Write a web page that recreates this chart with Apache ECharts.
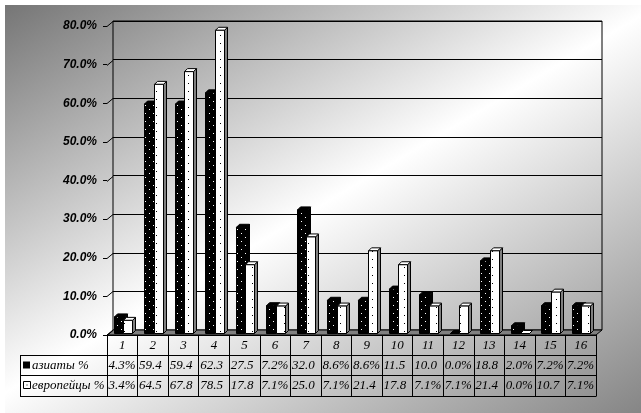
<!DOCTYPE html>
<html><head><meta charset="utf-8">
<script src="https://cdn.jsdelivr.net/npm/echarts@6/dist/echarts.min.js"></script>
<style>html,body{margin:0;padding:0;background:#fff}#c{width:641px;height:413px}</style>
</head><body><div id="c"></div>
<script>
// ---- data ----
const categories = ['1','2','3','4','5','6','7','8','9','10','11','12','13','14','15','16'];
const seriesNames = ['азиаты %', 'европейцы %'];
const asians    = [4.3, 59.4, 59.4, 62.3, 27.5, 7.2, 32.0, 8.6, 8.6, 11.5, 10.0, 0.0, 18.8, 2.0, 7.2, 7.2];
const europeans = [3.4, 64.5, 67.8, 78.5, 17.8, 7.1, 25.0, 7.1, 21.4, 17.8, 7.1, 7.1, 21.4, 0.0, 10.7, 7.1];
const yTicks = [0, 10, 20, 30, 40, 50, 60, 70, 80];

// ---- layout / style ----
const FRONT = {left: 107, top: 26, width: 489, height: 309};
const DX = 6, DY = -5;
const ROW_Y = [365.5, 386];
const TABLE = {left: 20, lines: [355.5, 375.5, 396.5]};
const SERIF_STYLE = {fontFamily: '"Liberation Serif", "Times New Roman", serif', fontStyle: 'italic', fontSize: 13, fontWeight: 'normal'};

function makePattern(bg, dot, pts, w, h) {
  const c = document.createElement('canvas'); c.width = w; c.height = h;
  const g = c.getContext('2d'); g.fillStyle = bg; g.fillRect(0, 0, w, h); g.fillStyle = dot;
  pts.forEach(p => g.fillRect(p[0], p[1], 1, 1));
  return {image: c, repeat: 'repeat'};
}
const blackPat = makePattern('#000', '#fff', [[1, 1], [5, 5]], 8, 8);
const whitePat = makePattern('#fff', '#000', [[4, 3]], 8, 8);

const BAR_STYLE = [
  {off: 6.5, w: 10, front: blackPat, side: '#000', top: '#000'},
  {off: 16, w: 9, front: whitePat, side: '#808080', top: '#fff'}
];

function barRender(sIdx) {
  return function (params, api) {
    const i = api.value(0), v = api.value(1);
    const cs = params.coordSys;
    const band = cs.width / categories.length;
    const L = cs.x + i * band;
    const pTop = api.coord([i, v]), pBase = api.coord([i, 0]);
    const sh = 1.5, d = 3;
    const yb = pBase[1] - sh, yt = pTop[1] - sh;
    const s = BAR_STYLE[sIdx];
    const x0 = Math.round(L + s.off) + 0.5, x1 = x0 + s.w;
    return {type: 'group', children: [
      {type: 'polygon', shape: {points: [[x1, yb], [x1 + d, yb - d], [x1 + d, yt - d], [x1, yt]]},
        style: {fill: s.side, stroke: '#000', lineWidth: 1}},
      {type: 'polygon', shape: {points: [[x0, yt], [x0 + d, yt - d], [x1 + d, yt - d], [x1, yt]]},
        style: {fill: s.top, stroke: '#000', lineWidth: 1}},
      {type: 'rect', shape: {x: x0, y: yt, width: s.w, height: Math.max(0, yb - yt)},
        style: {fill: s.front, stroke: '#000', lineWidth: 1}}
    ]};
  };
}

const chart = echarts.init(document.getElementById('c'));
const bgGrad = new echarts.graphic.LinearGradient(146.6, -86.4, 493.4, 498.4, [
  {offset: 0, color: '#737373'}, {offset: 0.5, color: '#ffffff'}, {offset: 1, color: '#868686'}
], true);

const tableRight = FRONT.left + FRONT.width;
const graphics = [
  {type: 'rect', z: -100, shape: {x: 5, y: 5, width: 636, height: 408}, style: {fill: bgGrad}, silent: true},
];
TABLE.lines.forEach(y => graphics.push({type: 'line', z: 10, shape: {x1: TABLE.left, y1: y, x2: tableRight, y2: y}, style: {stroke: '#000', lineWidth: 1}}));
graphics.push({type: 'line', z: 10, shape: {x1: TABLE.left + 0.5, y1: TABLE.lines[0], x2: TABLE.left + 0.5, y2: TABLE.lines[2]}, style: {stroke: '#000', lineWidth: 1}});
graphics.push({type: 'line', z: 10, shape: {x1: tableRight + 0.5, y1: FRONT.top + FRONT.height, x2: tableRight + 0.5, y2: TABLE.lines[2]}, style: {stroke: '#000', lineWidth: 1}});
// legend keys
graphics.push({type: 'rect', z: 10, shape: {x: 23, y: 361.5, width: 7, height: 7}, style: {fill: '#000'}});
graphics.push({type: 'rect', z: 10, shape: {x: 23.5, y: 381.5, width: 7, height: 7}, style: {fill: '#fff', stroke: '#000', lineWidth: 1}});
graphics.push({type: 'rect', z: 10, shape: {x: 26.5, y: 384.5, width: 1, height: 1}, style: {fill: '#000'}});
seriesNames.forEach((n, r) => graphics.push({type: 'text', z: 10, style: Object.assign({text: n, x: 32, y: ROW_Y[r], fill: '#000', verticalAlign: 'middle', align: 'left'}, SERIF_STYLE)}));

const option = {
  animation: false,
  backgroundColor: '#fff',
  graphic: graphics,
  grid: [
    {left: FRONT.left + DX, top: FRONT.top + DY, width: FRONT.width, height: FRONT.height, show: true, borderColor: '#000', borderWidth: 1, backgroundColor: 'transparent'},
    {left: FRONT.left, top: FRONT.top, width: FRONT.width, height: FRONT.height}
  ],
  xAxis: [
    {gridIndex: 0, type: 'category', data: categories, show: false},
    {gridIndex: 1, type: 'category', data: categories, position: 'bottom',
      axisLine: {show: true, lineStyle: {color: '#000', width: 1}},
      axisTick: {show: true, length: 61, interval: 0, lineStyle: {color: '#000', width: 1}},
      axisLabel: Object.assign({interval: 0, margin: 4, color: '#000'}, SERIF_STYLE),
      splitLine: {show: false}}
  ],
  yAxis: [
    {gridIndex: 0, type: 'value', min: 0, max: 80, interval: 10,
      axisLine: {show: false}, axisTick: {show: false}, axisLabel: {show: false},
      splitLine: {show: true, lineStyle: {color: '#000', width: 1}}},
    {gridIndex: 1, type: 'value', min: 0, max: 80, interval: 10,
      axisLine: {show: false},
      axisTick: {show: true, length: 4, lineStyle: {color: '#000', width: 1}},
      axisLabel: {margin: 10, color: '#000', fontFamily: '"Liberation Sans", Arial, sans-serif', fontWeight: 'bold', fontStyle: 'italic', fontSize: 12,
        formatter: v => v.toFixed(1) + '%'},
      splitLine: {show: false}}
  ],
  series: [
    { // floor
      type: 'custom', xAxisIndex: 1, yAxisIndex: 1, z: 1, silent: true,
      data: [[0, 0]],
      renderItem: (params, api) => {
        const cs = params.coordSys;
        const y = api.coord([0, 0])[1];
        const x = cs.x;
        return {type: 'polygon', shape: {points: [[x, y], [x + cs.width, y], [x + cs.width + DX, y + DY], [x + DX, y + DY]]},
          style: {fill: '#808080', stroke: '#000', lineWidth: 1}};
      }
    },
    { // tick connectors to back wall
      type: 'custom', xAxisIndex: 1, yAxisIndex: 1, z: 1, silent: true,
      data: yTicks.map(v => [0, v]),
      renderItem: (params, api) => {
        const cs = params.coordSys;
        const y = Math.round(api.coord([0, api.value(1)])[1]) + 0.5;
        return {type: 'line', shape: {x1: cs.x, y1: y, x2: cs.x + DX, y2: y + DY}, style: {stroke: '#000', lineWidth: 1}};
      }
    },
    {name: seriesNames[0], type: 'custom', xAxisIndex: 1, yAxisIndex: 1, z: 3,
      data: asians.map((v, i) => [i, v]), renderItem: barRender(0)},
    {name: seriesNames[1], type: 'custom', xAxisIndex: 1, yAxisIndex: 1, z: 4,
      data: europeans.map((v, i) => [i, v]), renderItem: barRender(1)},
    { // data table values
      type: 'custom', xAxisIndex: 1, yAxisIndex: 1, z: 5, silent: true,
      data: categories.map((c, i) => [i, 0]),
      renderItem: (params, api) => {
        const i = api.value(0);
        const cs = params.coordSys;
        const band = cs.width / categories.length;
        const L = cs.x + i * band;
        return {type: 'group', children: [asians, europeans].map((arr, r) => ({
          type: 'text',
          style: Object.assign({text: arr[i].toFixed(1) + '%', x: L + 1.5, y: ROW_Y[r], width: band - 1.5, overflow: 'truncate', ellipsis: '',
            fill: '#000', verticalAlign: 'middle', align: 'left'}, SERIF_STYLE)
        }))};
      }
    }
  ]
};
chart.setOption(option);
</script>
</body></html>
